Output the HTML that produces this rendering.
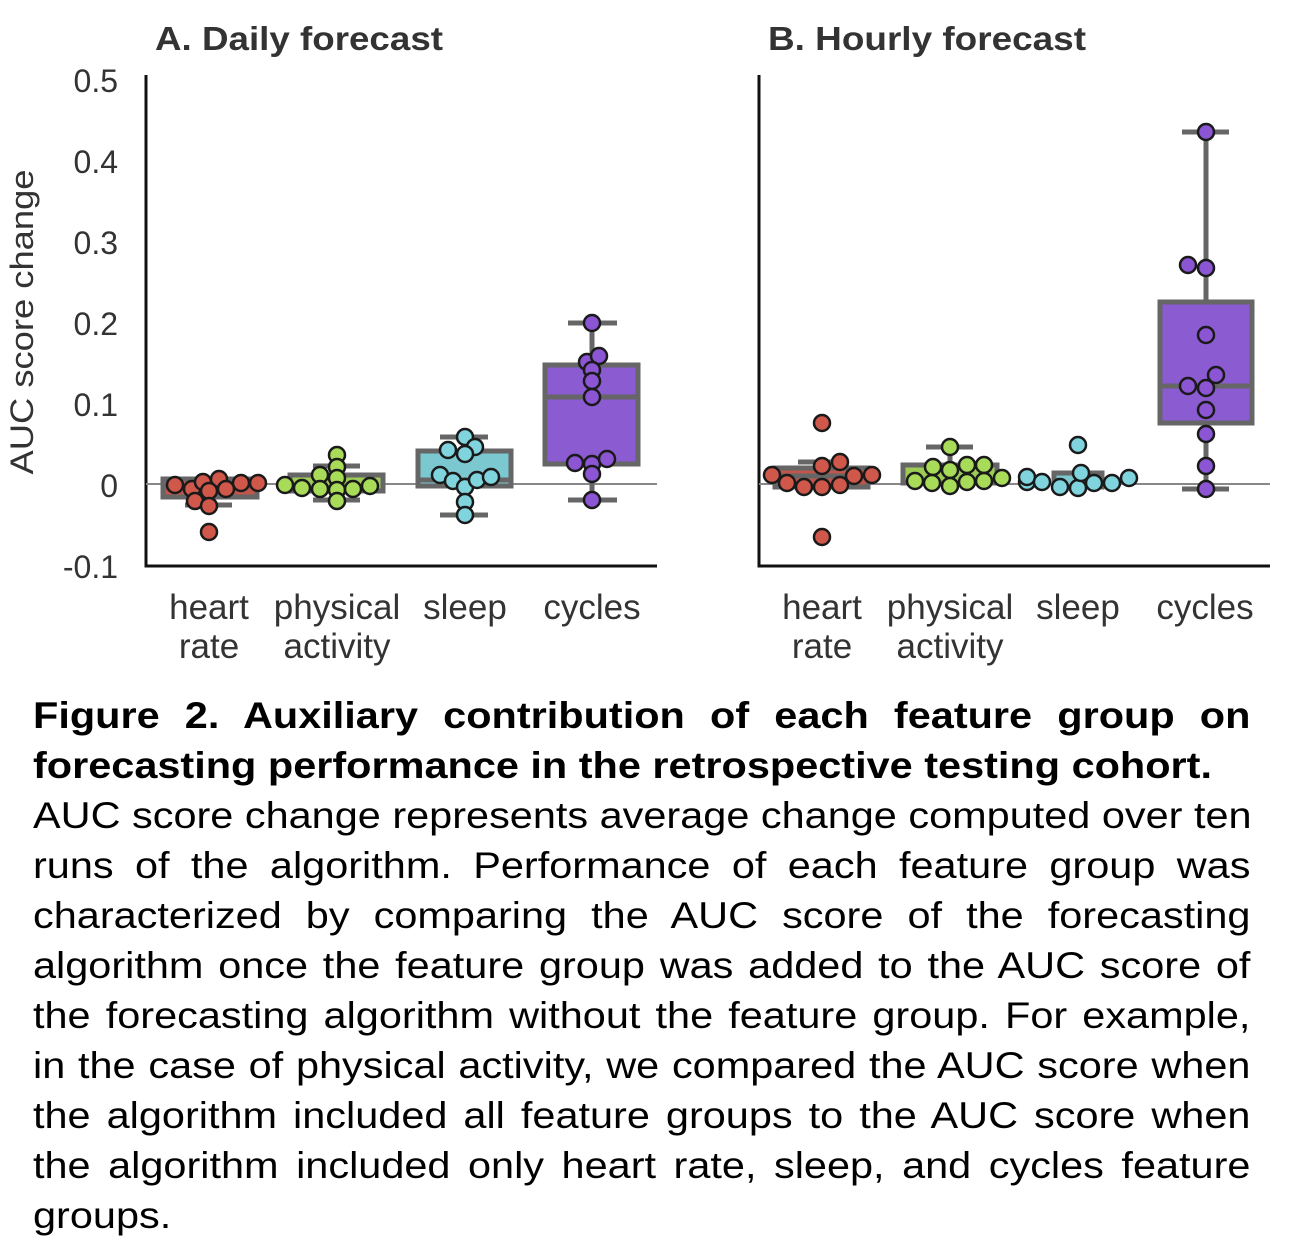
<!DOCTYPE html>
<html><head><meta charset="utf-8"><style>
body{margin:0;width:1301px;height:1255px;background:#fff;overflow:hidden;font-family:"Liberation Sans",Arial,sans-serif;}
svg{position:absolute;left:0;top:0}
.cap{position:absolute;left:33px;top:691px;width:1087px;font-size:37px;color:#000;transform:scaleX(1.12);transform-origin:0 0}
.cap div{height:50px;line-height:50px;text-align:justify;text-align-last:justify;white-space:nowrap}
.cap div.l{text-align-last:left}
.b{font-weight:bold}
</style></head><body>
<svg width="1301" height="690" font-family="Liberation Sans, Arial, sans-serif">
<g font-size="33" font-weight="bold" fill="#333">
<text x="155" y="50" textLength="288" lengthAdjust="spacingAndGlyphs">A. Daily forecast</text>
<text x="768" y="50" textLength="318" lengthAdjust="spacingAndGlyphs">B. Hourly forecast</text>
</g>
<g font-size="32" fill="#333" text-anchor="end">
<text x="118" y="92">0.5</text><text x="118" y="173">0.4</text><text x="118" y="254">0.3</text>
<text x="118" y="335">0.2</text><text x="118" y="416">0.1</text><text x="118" y="497">0</text><text x="118" y="578">-0.1</text>
</g>
<text transform="translate(33,322) rotate(-90)" font-size="32" fill="#333" text-anchor="middle" textLength="305" lengthAdjust="spacingAndGlyphs">AUC score change</text>
<g font-size="35" fill="#333" text-anchor="middle">
<text x="209" y="619">heart</text><text x="209" y="658">rate</text>
<text x="337" y="619">physical</text><text x="337" y="658">activity</text>
<text x="465" y="619">sleep</text><text x="592" y="619">cycles</text>
<text x="822" y="619">heart</text><text x="822" y="658">rate</text>
<text x="950" y="619">physical</text><text x="950" y="658">activity</text>
<text x="1078" y="619">sleep</text><text x="1205" y="619">cycles</text>
</g>
<g stroke="#111" stroke-width="3" fill="none">
<path d="M146 75V566H657"/><path d="M759 75V566H1270"/>
</g>
<g stroke="#888" stroke-width="2"><path d="M146 484H657M759 484H1270"/></g>
<g stroke="#666" stroke-width="5" stroke-linecap="butt">
<rect x="163" y="479" width="94" height="18" fill="#c0564b"/><path d="M163 486H257M185 505H232"/>
<rect x="290" y="475" width="93" height="16" fill="#9ccc55"/><path d="M313 466H360M313 500H360M337 466V475"/>
<rect x="418" y="451" width="93" height="35" fill="#7cc8d0"/><path d="M418 480H511M440 437H488M440 515H488M465 437V451M465 486V515"/>
<rect x="545" y="365" width="93" height="99" fill="#8b5bd1"/><path d="M545 397H638M568 323H617M568 500H617M592 323V365M592 464V500"/>
</g>
<g stroke="#666" stroke-width="5">
<rect x="775" y="468" width="93" height="19" fill="#c0564b"/><path d="M775 476H868M798 462H845M822 462V468"/>
<rect x="903" y="465" width="94" height="18" fill="#9ccc55"/><path d="M926 447H973M950 447V465"/>
<rect x="1054" y="473" width="48" height="14" fill="#7cc8d0"/>
<rect x="1160" y="302" width="92" height="121" fill="#8b5bd1"/><path d="M1160 386H1252M1182 132H1229M1182 489H1229M1206 132V302M1206 423V489"/>
</g>
<g stroke="#1a1a1a" stroke-width="2.5">
<g fill="#d0584b">
<circle cx="175" cy="485" r="8"/><circle cx="192" cy="489" r="8"/><circle cx="203" cy="482" r="8"/><circle cx="219" cy="479" r="8"/><circle cx="209" cy="491" r="8"/><circle cx="226" cy="489" r="8"/><circle cx="241" cy="483" r="8"/><circle cx="258" cy="483" r="8"/><circle cx="195" cy="501" r="8"/><circle cx="209" cy="506" r="8"/><circle cx="209" cy="532" r="8"/>
<circle cx="822" cy="423" r="8"/><circle cx="822" cy="537" r="8"/><circle cx="772" cy="475" r="8"/><circle cx="787" cy="483" r="8"/><circle cx="804" cy="487" r="8"/><circle cx="822" cy="487" r="8"/><circle cx="840" cy="485" r="8"/><circle cx="822" cy="466" r="8"/><circle cx="840" cy="462" r="8"/><circle cx="854" cy="476" r="8"/><circle cx="872" cy="475" r="8"/>
</g>
<g fill="#a8dc58">
<circle cx="285" cy="485" r="8"/><circle cx="302" cy="488" r="8"/><circle cx="320" cy="475" r="8"/><circle cx="320" cy="489" r="8"/><circle cx="337" cy="455" r="8"/><circle cx="337" cy="467" r="8"/><circle cx="337" cy="478" r="8"/><circle cx="337" cy="490" r="8"/><circle cx="337" cy="501" r="8"/><circle cx="353" cy="489" r="8"/><circle cx="370" cy="486" r="8"/>
<circle cx="950" cy="447" r="8"/><circle cx="933" cy="467" r="8"/><circle cx="950" cy="470" r="8"/><circle cx="967" cy="465" r="8"/><circle cx="984" cy="465" r="8"/><circle cx="915" cy="481" r="8"/><circle cx="932" cy="483" r="8"/><circle cx="950" cy="486" r="8"/><circle cx="967" cy="482" r="8"/><circle cx="984" cy="481" r="8"/><circle cx="1002" cy="478" r="8"/>
</g>
<g fill="#80d4de">
<circle cx="465" cy="437" r="8"/><circle cx="448" cy="450" r="8"/><circle cx="475" cy="447" r="8"/><circle cx="465" cy="454" r="8"/><circle cx="440" cy="475" r="8"/><circle cx="453" cy="481" r="8"/><circle cx="465" cy="487" r="8"/><circle cx="477" cy="480" r="8"/><circle cx="491" cy="477" r="8"/><circle cx="465" cy="502" r="8"/><circle cx="465" cy="515" r="8"/>
<circle cx="1078" cy="445" r="8"/><circle cx="1027" cy="482" r="8"/><circle cx="1027" cy="477" r="8"/><circle cx="1042" cy="482" r="8"/><circle cx="1060" cy="487" r="8"/><circle cx="1078" cy="488" r="8"/><circle cx="1081" cy="473" r="8"/><circle cx="1094" cy="483" r="8"/><circle cx="1112" cy="483" r="8"/><circle cx="1129" cy="478" r="8"/>
</g>
<g fill="#8c55d4">
<circle cx="592" cy="323" r="8"/><circle cx="587" cy="362" r="8"/><circle cx="599" cy="356" r="8"/><circle cx="592" cy="370" r="8"/><circle cx="592" cy="381" r="8"/><circle cx="592" cy="397" r="8"/><circle cx="575" cy="463" r="8"/><circle cx="592" cy="464" r="8"/><circle cx="607" cy="459" r="8"/><circle cx="592" cy="474" r="8"/><circle cx="592" cy="500" r="8"/>
<circle cx="1206" cy="132" r="8"/><circle cx="1188" cy="265" r="8"/><circle cx="1206" cy="268" r="8"/><circle cx="1206" cy="335" r="8"/><circle cx="1216" cy="375" r="8"/><circle cx="1188" cy="386" r="8"/><circle cx="1206" cy="388" r="8"/><circle cx="1206" cy="410" r="8"/><circle cx="1206" cy="434" r="8"/><circle cx="1206" cy="466" r="8"/><circle cx="1206" cy="489" r="8"/>
</g>
</g>
</svg>
<div class="cap">
<div class="b">Figure 2. Auxiliary contribution of each feature group on</div>
<div class="b l">forecasting performance in the retrospective testing cohort.</div>
<div>AUC score change represents average change computed over ten</div>
<div>runs of the algorithm. Performance of each feature group was</div>
<div>characterized by comparing the AUC score of the forecasting</div>
<div>algorithm once the feature group was added to the AUC score of</div>
<div>the forecasting algorithm without the feature group. For example,</div>
<div>in the case of physical activity, we compared the AUC score when</div>
<div>the algorithm included all feature groups to the AUC score when</div>
<div>the algorithm included only heart rate, sleep, and cycles feature</div>
<div class="l">groups.</div>
</div>
</body></html>
